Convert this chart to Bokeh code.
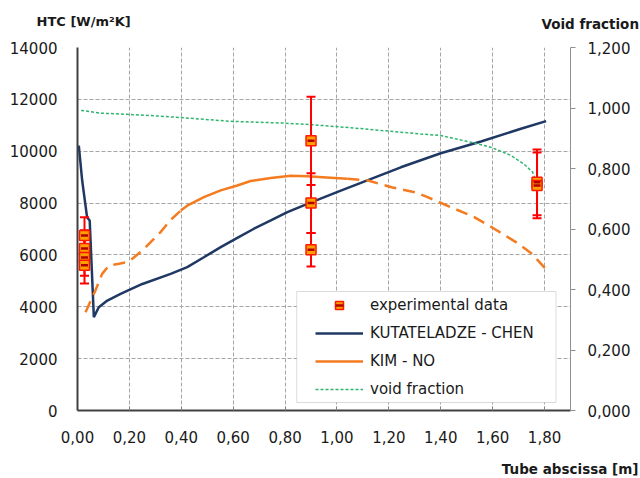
from bokeh.plotting import figure
from bokeh.models import (Range1d, LinearAxis, Label, Legend, LegendItem,
                          BoxAnnotation, FixedTicker, CustomJSTickFormatter)
from bokeh.embed import file_html
from bokeh.resources import INLINE

# ---------------- data ----------------
x_ticks = [0.0, 0.2, 0.4, 0.6, 0.8, 1.0, 1.2, 1.4, 1.6, 1.8]
htc_ticks = [0, 2000, 4000, 6000, 8000, 10000, 12000, 14000]
void_ticks = [0.0, 0.2, 0.4, 0.6, 0.8, 1.0, 1.2]

# experimental data (position, HTC, error)
exp_x = [0.027, 0.027, 0.027, 0.027, 0.90, 0.90, 0.90, 1.771, 1.771]
exp_y = [6750, 6250, 5900, 5600, 10400, 8000, 6200, 8800, 8680]
exp_err = [700, 700, 700, 700, 1700, 1150, 650, 1270, 1270]

# KUTATELADZE - CHEN
kc_x = [0.005, 0.018, 0.037, 0.047, 0.057, 0.063, 0.082, 0.115, 0.166, 0.25,
        0.359, 0.423, 0.487, 0.552, 0.616, 0.680, 0.745, 0.809, 0.886, 1.0,
        1.246, 1.40, 1.555, 1.709, 1.806]
kc_y = [10220, 8870, 7450, 7330, 5000, 3600, 3980, 4240, 4500, 4880,
        5270, 5530, 5910, 6300, 6660, 7010, 7330, 7650, 7970, 8420,
        9380, 9920, 10375, 10865, 11160]

# KIM - NO
kn_x = [0.031, 0.069, 0.095, 0.121, 0.160, 0.192, 0.211, 0.250, 0.282, 0.320,
        0.359, 0.398, 0.423, 0.487, 0.552, 0.616, 0.667, 0.745, 0.822, 0.886,
        0.960, 1.040, 1.120, 1.210, 1.300, 1.349, 1.439, 1.529, 1.606, 1.700,
        1.750, 1.810]
kn_y = [3790, 4630, 5270, 5590, 5660, 5720, 5850, 6170, 6490, 6880,
        7350, 7710, 7900, 8230, 8490, 8680, 8850, 8970, 9050, 9030,
        8990, 8940, 8870, 8610, 8420, 8230, 7840, 7460, 7010, 6430,
        6055, 5400]
kn_solid_from = 0.398
kn_solid_to = 1.040

# void fraction
vf_x = [0.014, 0.089, 0.192, 0.282, 0.37, 0.59, 0.796, 0.90, 1.05, 1.246,
        1.323, 1.40, 1.516, 1.593, 1.671, 1.72, 1.754, 1.767]
vf_y = [0.992, 0.983, 0.979, 0.975, 0.970, 0.956, 0.950, 0.945, 0.935, 0.920,
        0.914, 0.909, 0.887, 0.870, 0.843, 0.815, 0.788, 0.760]

# ---------------- styles ----------------
FONT = "DejaVu Sans"
TXT = "#1a1a1a"
NAVY = "#1F3864"
ORANGE = "#F47B20"
GREEN = "#2DB56E"
RED = "#FF0000"
GRID = "#A6A6A6"

p = figure(width=640, height=478, x_range=Range1d(0, 1.9), y_range=Range1d(0, 14000),
           output_backend="svg", toolbar_location=None,
           min_border_left=77, min_border_right=70, min_border_top=47, min_border_bottom=68)
p.extra_y_ranges = {"void": Range1d(0, 1.2)}
p.outline_line_color = None
p.background_fill_color = "white"
p.border_fill_color = "white"

# grids
p.xgrid.ticker = FixedTicker(ticks=x_ticks)
p.ygrid.ticker = FixedTicker(ticks=htc_ticks)
for g in (p.xgrid, p.ygrid):
    g.grid_line_color = GRID
    g.grid_line_dash = "4 2"
    g.grid_line_width = 1

# bottom axis
xa = p.xaxis[0]
xa.ticker = FixedTicker(ticks=x_ticks)
xa.formatter = CustomJSTickFormatter(code="return tick.toFixed(2).replace('.', ',');")
xa.major_tick_in = 4
xa.major_tick_out = 0
xa.minor_tick_line_color = None
xa.axis_line_color = "#404040"
xa.axis_line_width = 2
xa.major_tick_line_color = "#808080"
xa.major_label_standoff = 20

# left axis
ya = p.yaxis[0]
ya.ticker = FixedTicker(ticks=htc_ticks)
ya.formatter = CustomJSTickFormatter(code="return tick.toFixed(0);")
ya.major_tick_in = 0
ya.major_tick_out = 0
ya.minor_tick_line_color = None
ya.axis_line_color = "#404040"
ya.axis_line_width = 2
ya.major_label_standoff = 20

# right axis
ra = LinearAxis(y_range_name="void", ticker=FixedTicker(ticks=void_ticks),
                formatter=CustomJSTickFormatter(code="return tick.toFixed(3).replace('.', ',');"))
ra.major_tick_in = 0
ra.major_tick_out = 5
ra.minor_tick_line_color = None
ra.axis_line_color = "#909090"
ra.major_tick_line_color = "#909090"
ra.major_label_standoff = 12
p.add_layout(ra, "right")

for ax in (xa, ya, ra):
    ax.major_label_text_font = FONT
    ax.major_label_text_font_size = "15px"
    ax.major_label_text_color = TXT

# lines
kc_r = p.line(kc_x, kc_y, line_color=NAVY, line_width=2.5)

i0 = kn_x.index(kn_solid_from)
i1 = kn_x.index(kn_solid_to)
p.line(kn_x[:i0 + 1], kn_y[:i0 + 1], line_color=ORANGE, line_width=2.5, line_dash="12 7")
kn_r = p.line(kn_x[i0:i1 + 1], kn_y[i0:i1 + 1], line_color=ORANGE, line_width=2.5)
p.line(kn_x[i1:], kn_y[i1:], line_color=ORANGE, line_width=2.5, line_dash="12 7")

vf_r = p.line(vf_x, vf_y, y_range_name="void", line_color=GREEN, line_width=1.5, line_dash="3 2")

# error bars
lo = [v - e for v, e in zip(exp_y, exp_err)]
hi = [v + e for v, e in zip(exp_y, exp_err)]
p.segment(x0=exp_x, y0=lo, x1=exp_x, y1=hi, line_color=RED, line_width=2)
p.scatter(exp_x, lo, marker="dash", size=9, line_color=RED, line_width=2)
p.scatter(exp_x, hi, marker="dash", size=9, line_color=RED, line_width=2)

# markers
sq_r = p.scatter(exp_x, exp_y, marker="square", size=10, fill_color="#FF9E00",
                 line_color="#FF1A00", line_width=1.5)
dr_r = p.scatter(exp_x, exp_y, marker="dash", size=7, line_color="#B00000", line_width=2.5)

# legend frame + legend
p.add_layout(BoxAnnotation(left=0.845, right=1.844, bottom=309, top=4590,
                           fill_color="white", fill_alpha=1.0,
                           line_color="#8C8C8C", line_width=1))
legend = Legend(items=[LegendItem(label="experimental data", renderers=[sq_r, dr_r]),
                       LegendItem(label="KUTATELADZE - CHEN", renderers=[kc_r]),
                       LegendItem(label="KIM - NO", renderers=[kn_r]),
                       LegendItem(label="void fraction", renderers=[vf_r])],
                location=(234, 7), margin=0, padding=4, spacing=8,
                glyph_width=48, glyph_height=20, label_height=20, label_standoff=7,
                label_text_font=FONT, label_text_font_size="15px", label_text_color=TXT,
                background_fill_alpha=0, border_line_alpha=0)
p.add_layout(legend)

# axis titles (placed in side panels so they are not clipped to the frame)
title_kw = dict(text_font=FONT, text_font_style="bold", text_color=TXT, text_baseline="middle")
p.add_layout(Label(x=0.205, y=15022, text="HTC [W/m²K]", text_align="right",
                   text_font_size="13px", **title_kw), "above")
p.add_layout(Label(x=2.164, y=14914, text="Void fraction", text_align="right",
                   text_font_size="13.5px", **title_kw), "above")
p.add_layout(Label(x=2.18, y=-2237, text="Tube abscissa  [m]", text_align="right",
                   text_font_size="13.5px", **title_kw), "below")

open("out.html", "w").write(file_html(p, INLINE))
